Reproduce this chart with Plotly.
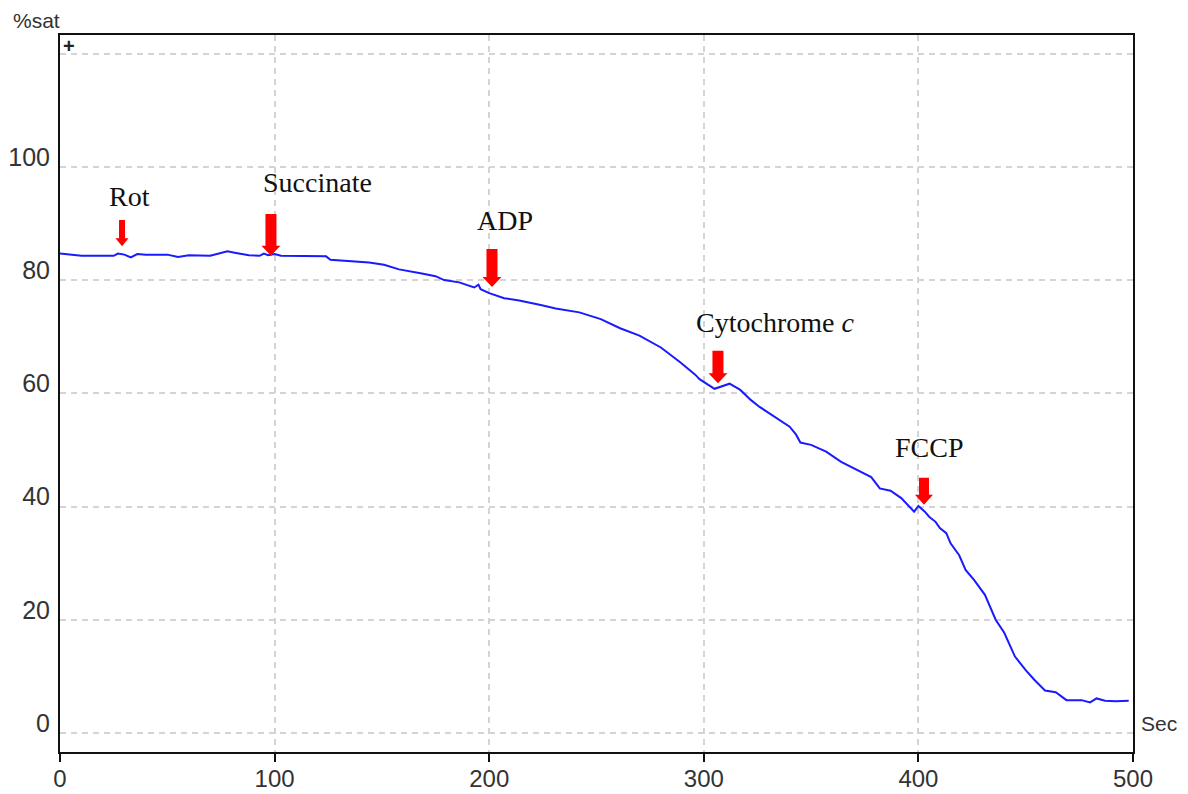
import plotly.graph_objects as go

# ---------------- data ----------------
time_s = [0, 10, 20, 25, 27, 30, 33, 36, 40, 50, 55, 60, 70, 75, 78, 82, 88, 93, 95, 97,
          100, 103, 110, 118, 124, 126, 130, 137, 144, 151, 158, 168, 175, 179, 186, 193,
          195, 196, 200, 207, 214, 224, 231, 242, 252, 261, 270, 280, 289, 296, 298, 305,
          308, 312, 317, 322, 326, 333, 340, 343, 345, 350, 357, 364, 373, 378, 382, 387,
          392, 396, 398, 400, 403, 405, 408, 410, 413, 415, 419, 422, 426, 431, 436, 440,
          445, 450, 454, 459, 464, 469, 476, 480, 483, 487, 492, 498]
o2_sat = [84.7, 84.3, 84.3, 84.3, 84.7, 84.5, 84.0, 84.6, 84.5, 84.5, 84.1, 84.4, 84.3, 84.8,
          85.1, 84.8, 84.4, 84.3, 84.7, 84.4, 84.6, 84.3, 84.3, 84.2, 84.2, 83.6, 83.5, 83.4,
          83.1, 82.7, 81.9, 81.2, 80.7, 80.0, 79.6, 78.7, 79.2, 78.4, 77.7, 76.8, 76.4, 75.6,
          75.0, 74.3, 73.1, 71.5, 70.2, 68.1, 65.5, 63.3, 62.5, 60.8, 61.2, 61.7, 60.6, 58.8,
          57.6, 55.9, 54.1, 52.7, 51.3, 50.9, 49.7, 47.9, 46.2, 45.2, 43.2, 42.8, 41.5, 40.0,
          39.1, 40.1, 39.1, 38.2, 37.3, 36.2, 35.3, 33.5, 31.4, 28.8, 27.0, 24.4, 20.0, 17.7,
          13.5, 11.1, 9.4, 7.5, 7.2, 5.8, 5.8, 5.4, 6.1, 5.7, 5.6, 5.7]

event_names = ["Rot", "Succinate", "ADP", "Cytochrome <i>c</i>", "FCCP"]
event_time = [28.9, 98.3, 201.3, 306.6, 402.6]
arrow_tip_y = [86.0, 84.3, 78.8, 61.8, 40.3]
arrow_top_y = [90.6, 91.7, 85.5, 67.5, 45.1]
label_x = [32.6, 119.8, 207.4, 333.2, 405.4]
label_y = [94.7, 97.2, 90.6, 72.6, 50.5]

x_ticks = [0, 100, 200, 300, 400, 500]
y_ticks = [0, 20, 40, 60, 80, 100, 120]
y_tick_text = ["0", "20", "40", "60", "80", "100", ""]

# ---------------- style ----------------
W, H = 1188, 794
ML, MR, MT, MB = 60, 55, 35, 42
X_RANGE = [0, 500]
Y_RANGE = [-3.36, 123.3]
PW = W - ML - MR
PH = H - MT - MB
px_per_x = PW / (X_RANGE[1] - X_RANGE[0])
px_per_y = PH / (Y_RANGE[1] - Y_RANGE[0])
shaft_w_px = [6, 11, 11, 11, 10]
head_w_px = [13, 19, 19, 19, 18]
head_h_px = [8, 10, 10, 10, 10]

fig = go.Figure()
fig.add_trace(go.Scatter(x=time_s, y=o2_sat, mode="lines",
                         line=dict(color="#1a1aff", width=2), hoverinfo="skip",
                         showlegend=False))

shapes = []
for i in range(len(event_time)):
    cx = event_time[i]
    sw = shaft_w_px[i] / px_per_x / 2
    hw = head_w_px[i] / px_per_x / 2
    hh = head_h_px[i] / px_per_y
    tip = arrow_tip_y[i]
    top = arrow_top_y[i]
    path = (f"M {cx - sw} {top} L {cx + sw} {top} L {cx + sw} {tip + hh} "
            f"L {cx + hw} {tip + hh} L {cx} {tip} L {cx - hw} {tip + hh} "
            f"L {cx - sw} {tip + hh} Z")
    shapes.append(dict(type="path", path=path, xref="x", yref="y",
                       fillcolor="#ff0000", line=dict(width=0)))

annotations = []
for i in range(len(event_names)):
    annotations.append(dict(x=label_x[i], y=label_y[i], xref="x", yref="y",
                            text=event_names[i], showarrow=False,
                            font=dict(family="Liberation Serif", size=28, color="#111111")))

annotations += [
    dict(x=(11 - ML) / PW, y=1 + (MT - 20) / PH, xref="paper", yref="paper",
         text="%sat", showarrow=False, xanchor="left", yanchor="middle",
         font=dict(family="Liberation Sans", size=21, color="#333333")),
    dict(x=1 + 6 / PW, y=(752 - 723) / PH, xref="paper", yref="paper",
         text="Sec", showarrow=False, xanchor="left", yanchor="middle",
         font=dict(family="Liberation Sans", size=21, color="#333333")),
    dict(x=0, y=120, xref="x", yref="y", text="<b>+</b>", showarrow=False,
         xanchor="left", yanchor="middle", xshift=1, yshift=8,
         font=dict(family="Liberation Sans", size=20, color="#222222")),
]

fig.update_layout(
    width=W, height=H,
    margin=dict(l=ML, r=MR, t=MT, b=MB),
    paper_bgcolor="white", plot_bgcolor="white",
    shapes=shapes,
    annotations=annotations,
    xaxis=dict(range=X_RANGE, tickvals=x_ticks, ticktext=[str(v) for v in x_ticks],
               showgrid=True, gridcolor="#d4d4d4", gridwidth=1.5, griddash="6px,5px",
               showline=True, linecolor="#111111", linewidth=2, mirror=True,
               ticks="outside", ticklen=8, tickwidth=2, tickcolor="#111111",
               ticklabelstandoff=-4,
               tickfont=dict(family="Liberation Sans", size=24, color="#333333"),
               zeroline=False, fixedrange=True, automargin=False),
    yaxis=dict(range=Y_RANGE, tickvals=y_ticks, ticktext=y_tick_text,
               showgrid=True, gridcolor="#d4d4d4", gridwidth=1.5, griddash="6px,5px",
               showline=True, linecolor="#111111", linewidth=2, mirror=True,
               ticks="", ticklabelshift=-10, ticklabelstandoff=3,
               tickfont=dict(family="Liberation Sans", size=25, color="#333333"),
               zeroline=False, fixedrange=True, automargin=False),
)

fig.write_html("out.html")
